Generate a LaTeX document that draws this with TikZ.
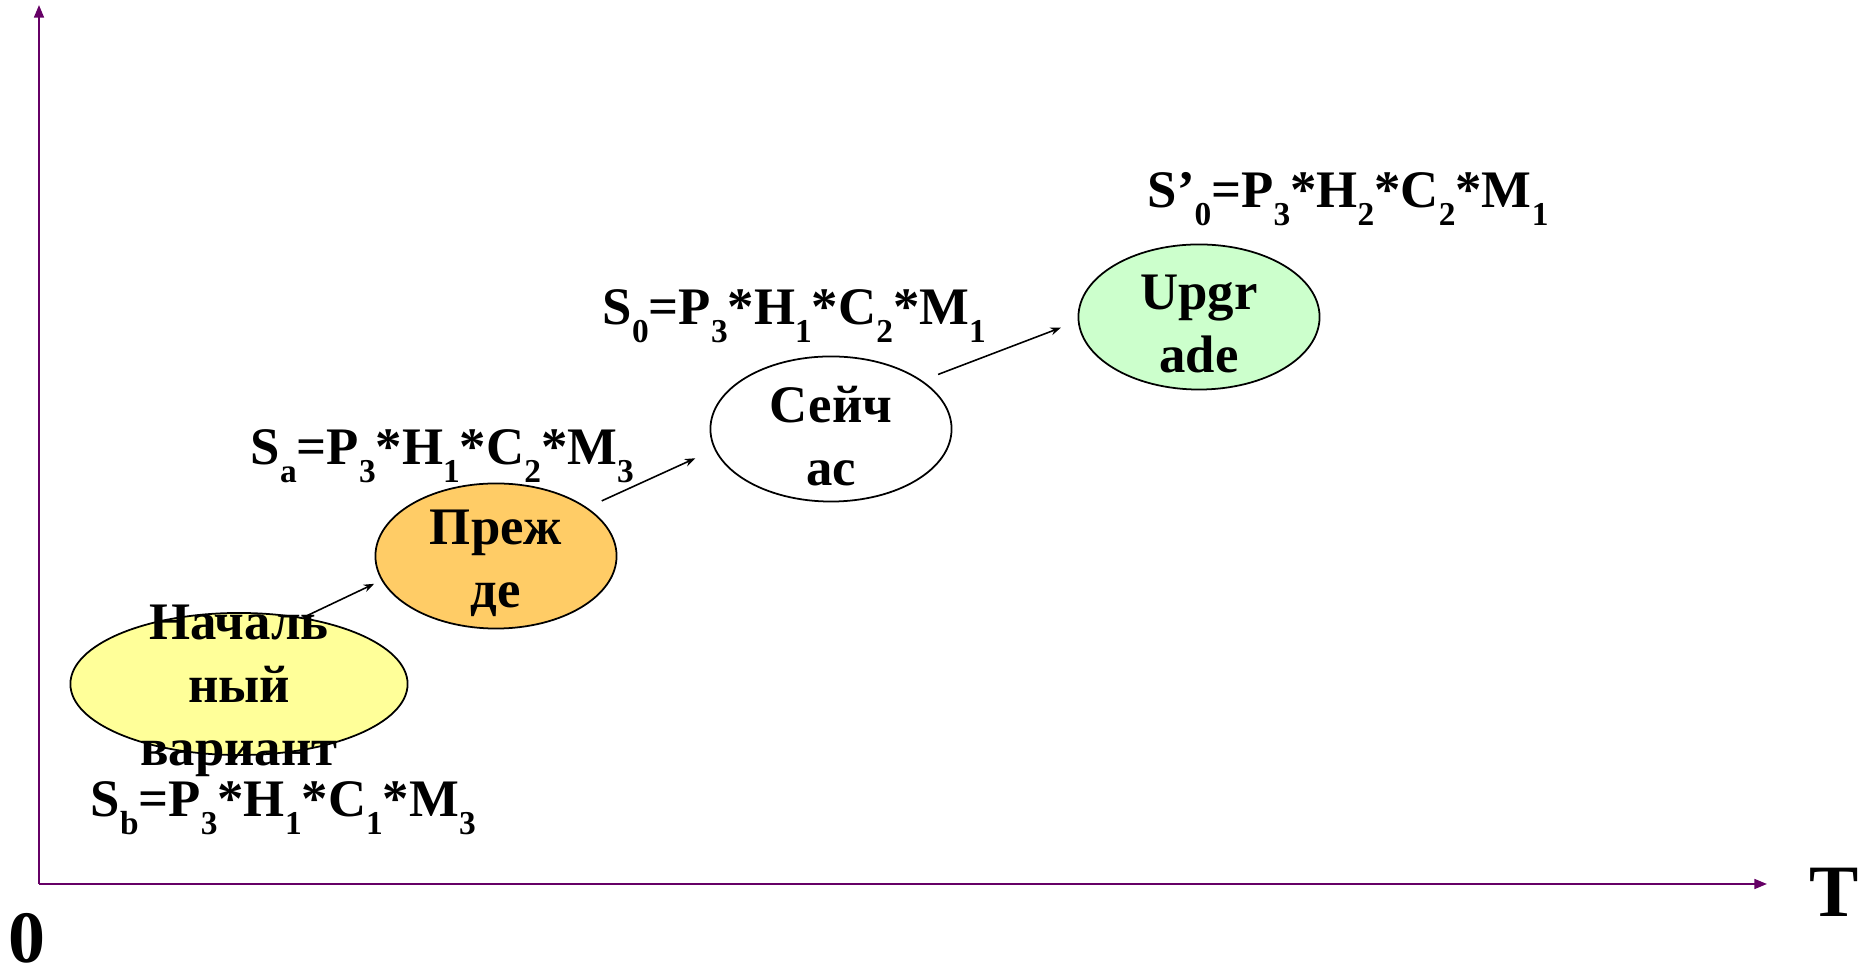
\documentclass[tikz,border=0pt]{standalone}
\usepackage{fontspec}
\setmainfont{Liberation Serif}
\usetikzlibrary{arrows.meta,shapes.geometric}

\definecolor{axispurple}{RGB}{102,0,102}
\definecolor{stageyellow}{RGB}{255,255,153}
\definecolor{stageorange}{RGB}{255,204,102}
\definecolor{stagegreen}{RGB}{204,255,204}

\newcommand\idx[1]{\raisebox{-5pt}{\fontsize{9.5}{9.5}\selectfont #1}}

\begin{document}
\begin{tikzpicture}[x=0.01cm,y=-0.01cm,
    axis/.style={axispurple,line width=0.6pt,-{Triangle[length=3.6pt,width=2.8pt]}},
    stage/.style={ellipse,draw,line width=0.5pt,inner sep=0pt,
        minimum width=2.41cm,minimum height=1.45cm},
    stagetext/.style={font=\bfseries\fontsize{15}{18}\selectfont,align=center,yshift=-2pt},
    formula/.style={font=\bfseries\fontsize{15}{18}\selectfont,anchor=base west,inner sep=0pt},
    bigmark/.style={font=\bfseries\fontsize{21}{24}\selectfont,anchor=base,inner sep=0pt},
    flow/.style={line width=0.45pt,-{Stealth[length=3pt,width=2.2pt]}}]
    \useasboundingbox (0,0) rectangle (1858,971);

    \coordinate (origin) at (39,884);
    \coordinate (yend) at (39,5);
    \coordinate (xend) at (1767,884);
    \draw[axis] (origin) -- (yend);
    \draw[axis] (origin) -- (xend);
    \node[bigmark] (zero) at (27,962) {0};
    \node[bigmark] (time) at (1834,917) {T};

    \node[stage,fill=stageyellow,minimum width=3.37cm,minimum height=1.42cm] (initial) at (239,684) {};
    \node[stagetext] (initialtext) at (initial) {Началь\\ный\\вариант};
    \node[formula] (sb) at (90,817) {S\idx{b}=P\idx{3}*H\idx{1}*C\idx{1}*M\idx{3}};

    \node[stage,fill=stageorange] (before) at (496,556) {};
    \node[stagetext] (beforetext) at (before) {Преж\\де};
    \node[formula] (sa) at (250,465) {S\idx{a}=P\idx{3}*H\idx{1}*C\idx{2}*M\idx{3}};

    \node[stage,fill=white] (now) at (831,429) {};
    \node[stagetext] (nowtext) at (now) {Сейч\\ас};
    \node[formula] (szero) at (602,325) {S\idx{0}=P\idx{3}*H\idx{1}*C\idx{2}*M\idx{1}};

    \node[stage,fill=stagegreen] (upgrade) at (1199,317) {};
    \node[stagetext] (upgradetext) at (upgrade) {Upgr\\ade};
    \node[formula] (snew) at (1147,208) {S’\idx{0}=P\idx{3}*H\idx{2}*C\idx{2}*M\idx{1}};

    \draw[flow,shorten >=0.08cm] (initial.46) -- (before.192);
    \draw[flow,shorten <=0.16cm,shorten >=0.21cm] (before.28.5) -- (now.190);
    \draw[flow,shorten <=0.17cm,shorten >=0.18cm] (now.28.3) -- (upgrade.182.5);

\end{tikzpicture}
\end{document}
